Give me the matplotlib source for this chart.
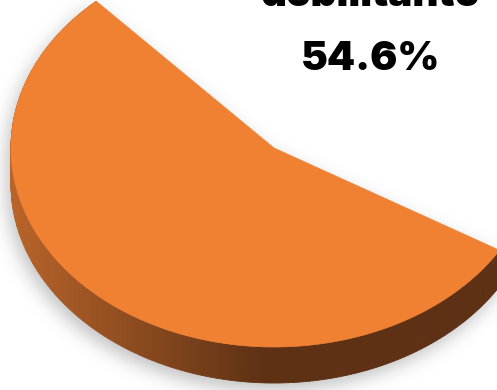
import numpy as np
import matplotlib
matplotlib.use("Agg")
import matplotlib.pyplot as plt
from matplotlib.path import Path
from matplotlib.patches import Polygon
from matplotlib.collections import PolyCollection

# data
labels = ["debilitante"]
shares = [54.6]            # percent of the visible slice
label_texts = ["54.6%"]

W, H = 497, 390

# 3D pie geometry in pixel space (y down)
cx, cy = 274.0, 148.0
a, b = 263.0, 199.0
depth = 36.0
start = 132.5
span = 360.0 * shares[0] / 100.0
end = start + span

top_col = "#F08133"


def rim(t):
    t = np.radians(t)
    return cx + a * np.cos(t), cy - b * np.sin(t)


def side_color(x):
    # lighter brown on the left, dark brown from the middle on
    f = np.clip((x - 15.0) / (265.0 - 15.0), 0, 1)
    c0 = np.array([0.72, 0.39, 0.16])
    c1 = np.array([0.37, 0.19, 0.08])
    return c0 * (1 - f) + c1 * f


fig = plt.figure(figsize=(W / 100, H / 100), dpi=100)
ax = fig.add_axes([0, 0, 1, 1])
ax.set_xlim(0, W)
ax.set_ylim(H, 0)
ax.axis("off")
fig.patch.set_facecolor("white")

ts = np.linspace(start, end, 300)
xs, ys = rim(ts)

# outline polygons
top_poly = np.vstack([[cx, cy], np.column_stack([xs, ys])])
vis = ts >= 180
band = np.vstack([np.column_stack([xs[vis], ys[vis]]),
                  np.column_stack([xs[vis], ys[vis] + depth])[::-1]])

# soft drop shadow
pad = 60
gx, gy = np.meshgrid(np.arange(-pad, W + pad) + 0.5, np.arange(-pad, H + pad) + 0.5)
pts = np.column_stack([gx.ravel(), gy.ravel()])
off = np.array([-4.0, 7.0])
mask = Path(top_poly + off).contains_points(pts) | Path(band + off).contains_points(pts)
mask = mask.reshape(gx.shape).astype(float)


def blur(img, s):
    r = int(3 * s)
    k = np.exp(-np.arange(-r, r + 1) ** 2 / (2 * s * s))
    k /= k.sum()
    img = np.apply_along_axis(lambda v: np.convolve(v, k, mode="same"), 0, img)
    img = np.apply_along_axis(lambda v: np.convolve(v, k, mode="same"), 1, img)
    return img


sh = blur(mask, 9.0)
rgba = np.zeros(sh.shape + (4,))
rgba[..., :3] = 0.45
rgba[..., 3] = 0.45 * sh
ax.imshow(rgba, extent=(-pad, W + pad, H + pad, -pad), zorder=0, interpolation="bilinear")

# side wall, drawn as thin strips to get the shading
strips, cols = [], []
for i in range(len(ts) - 1):
    x0, y0, x1, y1 = xs[i], ys[i], xs[i + 1], ys[i + 1]
    strips.append([(x0, y0), (x1, y1), (x1, y1 + depth), (x0, y0 + depth)])
    cols.append(side_color(0.5 * (x0 + x1)))
ax.add_collection(PolyCollection(strips, facecolors=cols, edgecolors=cols,
                                 linewidths=0.6, zorder=2))

# top face
ax.add_patch(Polygon(top_poly, closed=True, facecolor=top_col, edgecolor=top_col,
                     linewidth=0.5, zorder=3))

# labels
txt = dict(ha="center", va="baseline", fontsize=29, fontweight="black",
           family=["Inter", "DejaVu Sans"], color="black", zorder=5)
ax.text(370, 6, labels[0], **txt)
ax.text(371, 70, label_texts[0], **txt)

fig.savefig("out.png", dpi=100, facecolor="white")
